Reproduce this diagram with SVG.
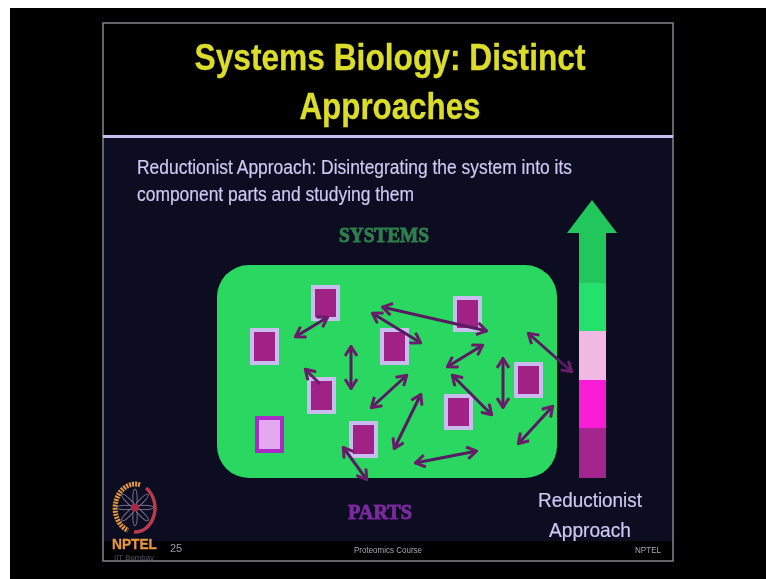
<svg xmlns="http://www.w3.org/2000/svg" width="766" height="579" viewBox="0 0 766 579">
<style>
text{font-family:"Liberation Sans",Arial,sans-serif}
.t{fill:#dcdc2c;font-size:37px;font-weight:bold;text-anchor:middle;stroke:#dcdc2c;stroke-width:.3}
.b{fill:#cfc8f2;font-size:19.5px;stroke:#cfc8f2;stroke-width:.2}
.s{fill:#a5a5b0;font-size:9px}
.n{fill:#a12487;stroke:#c9bdf0;stroke-width:4}
.c{fill:none;stroke:#571c60;stroke-width:3;marker-start:url(#h);marker-end:url(#h)}
.c1{fill:none;stroke:#6b1e6a;stroke-width:3;marker-start:url(#h)}
</style>
<defs>
<marker id="h" viewBox="0 0 14 14" refX="13" refY="7" markerWidth="14" markerHeight="14" markerUnits="userSpaceOnUse" orient="auto-start-reverse">
<path d="M3 1L12.500 7L3 13" fill="none" stroke="#6b1e6a" stroke-width="3"/>
</marker>
<filter id="bl" x="-2%" y="-2%" width="104%" height="104%"><feGaussianBlur stdDeviation="0.6"/></filter>
</defs>
<rect width="766" height="579" fill="#fff"/>
<rect x="10" y="8" width="756" height="571" fill="#000"/>
<g filter="url(#bl)">
<g id="slide">
<rect x="103" y="23" width="570" height="538" fill="#000"/>
<rect x="103" y="137" width="570" height="404" fill="#0a0a20"/>
<rect x="103" y="23" width="570" height="538" fill="none" stroke="#85858f" stroke-width="1.500"/>
<rect x="103" y="135" width="570" height="3" fill="#c6bff0"/>
</g>
<text class="t" x="390" y="70" textLength="391" lengthAdjust="spacingAndGlyphs">Systems Biology: Distinct</text>
<text class="t" x="390" y="119" textLength="181" lengthAdjust="spacingAndGlyphs">Approaches</text>
<text class="b" x="137" y="174" textLength="435" lengthAdjust="spacingAndGlyphs">Reductionist Approach: Disintegrating the system into its</text>
<text class="b" x="137" y="201" textLength="277" lengthAdjust="spacingAndGlyphs">component parts and studying them</text>
<text x="339" y="242" textLength="90" lengthAdjust="spacingAndGlyphs" style="font-family:'Liberation Serif',serif;font-weight:bold;font-size:20px;fill:#2f7f4d;stroke:#2f7f4d;stroke-width:.9">SYSTEMS</text>
<text x="348" y="519" textLength="64" lengthAdjust="spacingAndGlyphs" style="font-family:'Liberation Serif',serif;font-weight:bold;font-size:20px;fill:#7a2a9c;stroke:#7a2a9c;stroke-width:.9">PARTS</text>
<g id="cell-box"><rect x="217" y="265" width="340" height="213" rx="32" fill="#2ad760"/></g>
<g id="part-1"><rect class="n" x="313" y="287" width="25" height="32"/></g>
<g id="part-2"><rect class="n" x="252" y="330" width="25" height="33"/></g>
<g id="part-3"><rect class="n" x="382" y="330" width="25" height="33"/></g>
<g id="part-4"><rect class="n" x="455" y="298" width="25" height="32"/></g>
<g id="part-5"><rect class="n" x="516" y="364" width="25" height="32"/></g>
<g id="part-6"><rect class="n" x="309" y="379" width="25" height="33"/></g>
<g id="part-7"><rect class="n" x="446" y="396" width="25" height="32"/></g>
<g id="part-8"><rect class="n" x="351" y="423" width="25" height="33"/></g>
<g id="part-9"><rect x="257" y="418" width="25" height="33" fill="#e2a8f0" stroke="#a92ac6" stroke-width="4"/></g>
<g id="connectors">
<path class="c" d="M295 337L328 317"/>
<path class="c" d="M351 346V389"/>
<path class="c1" d="M305 369L320 384"/>
<path class="c" d="M372 313L421 343"/>
<path class="c" d="M382 307L487 331"/>
<path class="c" d="M447 367L483 345"/>
<path class="c" d="M503 358V408"/>
<path class="c" d="M528 333L572 372"/>
<path class="c" d="M452 375L492 415"/>
<path class="c" d="M371 408L407 375"/>
<path class="c" d="M421 394L394 449"/>
<path class="c" d="M518 444L553 406"/>
<path class="c" d="M415 463L477 451"/>
<path class="c" d="M343 447L367 480"/>
</g>
<g id="scale-arrow">
<path d="M592 200L617 233H606V283H579V233H567Z" fill="#22c75c"/>
<rect x="579" y="283" width="27" height="48" fill="#25e06c"/>
<rect x="579" y="331" width="27" height="49" fill="#f3b9e5"/>
<rect x="579" y="380" width="27" height="48" fill="#fb1fd6"/>
<rect x="579" y="428" width="27" height="50" fill="#a3278f"/>
</g>
<text class="b" x="590" y="507" text-anchor="middle" textLength="104" lengthAdjust="spacingAndGlyphs" style="font-size:21px">Reductionist</text>
<text class="b" x="590" y="537" text-anchor="middle" textLength="82" lengthAdjust="spacingAndGlyphs" style="font-size:21px">Approach</text>
<rect x="104" y="541" width="568" height="19" fill="#000"/>
<g id="logo">
<path d="M140 484.800A20 24 0 0 0 128 530.500" fill="none" stroke="#e59a3e" stroke-width="5" stroke-dasharray="2 1"/>
<path d="M146 488A20 24 0 0 1 134 532" fill="none" stroke="#b83a50" stroke-width="3.500"/>
<g fill="none" stroke="#7d7290" stroke-width="1">
<ellipse cx="135" cy="498" rx="2.200" ry="9"/><ellipse cx="135" cy="517" rx="2.200" ry="9"/>
<ellipse cx="125.500" cy="507.500" rx="9" ry="2.200"/><ellipse cx="144.500" cy="507.500" rx="9" ry="2.200"/>
<ellipse cx="135" cy="498" rx="2.200" ry="9" transform="rotate(45 135 507.500)"/>
<ellipse cx="135" cy="498" rx="2.200" ry="9" transform="rotate(135 135 507.500)"/>
<ellipse cx="135" cy="498" rx="2.200" ry="9" transform="rotate(225 135 507.500)"/>
<ellipse cx="135" cy="498" rx="2.200" ry="9" transform="rotate(315 135 507.500)"/>
</g>
<circle cx="135" cy="507.500" r="4" fill="#a8284c"/>
</g>
<text x="112" y="549" textLength="45" lengthAdjust="spacingAndGlyphs" style="font-size:15.500px;font-weight:bold;fill:#e8983e;stroke:#e8983e;stroke-width:.3">NPTEL</text>
<text x="114" y="560" textLength="40" lengthAdjust="spacingAndGlyphs" style="font-size:6.500px;fill:#55506a">IIT Bombay</text>
<text x="170" y="552" style="font-size:11px;fill:#9a9aa2">25</text>
<text class="s" x="354" y="553" textLength="68" lengthAdjust="spacingAndGlyphs">Proteomics Course</text>
<text class="s" x="635" y="553" textLength="26" lengthAdjust="spacingAndGlyphs">NPTEL</text>
</g>
</svg>
